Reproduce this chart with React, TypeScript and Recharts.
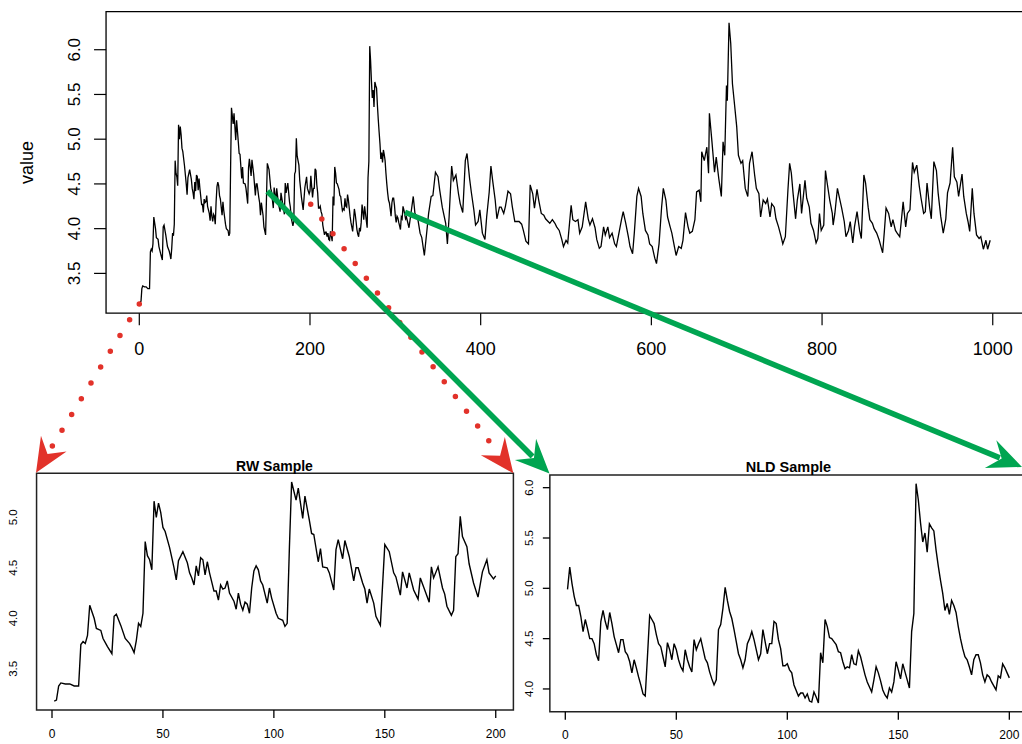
import React from "react";
import { LineChart, Line, XAxis, YAxis, ReferenceArea } from "recharts";

// ─── Data ───────────────────────────────────────────────────────────────────

// RW Sample (first 200 steps of the full series)
const rwT = [1, 2, 3, 4, 6, 8, 10, 12, 13, 14, 15, 16, 17, 19, 20, 22, 23, 25, 27, 28, 29, 31, 33, 35, 36, 37, 38, 39, 40, 41, 42, 43, 44, 45, 46, 47, 48, 49, 50, 51, 53, 54, 55, 56, 57, 59, 61, 62, 63, 64, 65, 66, 67, 68, 69, 70, 71, 73, 74, 75, 76, 77, 78, 79, 80, 82, 83, 84, 85, 86, 87, 88, 89, 90, 91, 92, 93, 94, 95, 97, 98, 99, 101, 102, 104, 105, 106, 107, 108, 110, 111, 113, 114, 116, 117, 118, 120, 121, 122, 124, 125, 127, 128, 129, 131, 132, 134, 136, 137, 138, 140, 141, 142, 143, 145, 146, 148, 150, 152, 154, 155, 157, 158, 160, 161, 163, 165, 166, 168, 170, 171, 172, 174, 176, 177, 178, 180, 181, 182, 183, 184, 185, 187, 188, 190, 192, 194, 196, 197, 199, 200];
const rwV = [3.18, 3.19, 3.33, 3.36, 3.35, 3.35, 3.33, 3.33, 3.74, 3.77, 3.75, 3.83, 4.13, 4.0, 3.9, 3.88, 3.8, 3.72, 3.65, 4.02, 4.04, 3.93, 3.8, 3.75, 3.71, 3.66, 3.78, 3.95, 3.92, 4.05, 4.76, 4.62, 4.58, 4.48, 5.16, 5.0, 5.14, 5.05, 4.9, 4.86, 4.7, 4.6, 4.5, 4.38, 4.57, 4.66, 4.55, 4.45, 4.4, 4.33, 4.52, 4.42, 4.6, 4.58, 4.43, 4.56, 4.45, 4.27, 4.27, 4.18, 4.33, 4.29, 4.3, 4.37, 4.25, 4.17, 4.09, 4.25, 4.14, 4.08, 4.16, 4.14, 4.05, 4.3, 4.47, 4.52, 4.48, 4.37, 4.33, 4.15, 4.3, 4.2, 4.05, 4.0, 3.98, 3.92, 3.95, 4.7, 5.35, 5.17, 5.29, 4.99, 5.21, 4.97, 4.84, 4.83, 4.56, 4.69, 4.51, 4.5, 4.45, 4.28, 4.68, 4.78, 4.59, 4.77, 4.61, 4.37, 4.5, 4.5, 4.35, 4.29, 4.15, 4.29, 4.15, 4.02, 3.93, 4.73, 4.66, 4.45, 4.41, 4.23, 4.46, 4.3, 4.45, 4.28, 4.19, 4.4, 4.28, 4.16, 4.51, 4.4, 4.51, 4.3, 4.24, 4.12, 4.03, 4.08, 4.61, 4.64, 5.01, 4.81, 4.71, 4.54, 4.35, 4.21, 4.46, 4.58, 4.45, 4.39, 4.42];

// NLD Sample (steps 112..312 of the full series)
const nldT = [1, 2, 3, 4, 5, 6, 7, 8, 9, 10, 11, 12, 13, 14, 15, 16, 17, 18, 19, 20, 21, 22, 23, 24, 25, 26, 27, 28, 29, 30, 31, 32, 33, 34, 35, 36, 37, 38, 39, 40, 41, 42, 43, 44, 45, 46, 47, 48, 49, 50, 51, 52, 53, 54, 55, 56, 57, 58, 59, 60, 61, 62, 63, 64, 65, 66, 67, 68, 69, 70, 71, 72, 73, 74, 75, 76, 77, 78, 79, 80, 81, 82, 83, 84, 85, 86, 87, 88, 89, 90, 91, 92, 93, 94, 95, 96, 97, 98, 99, 100, 101, 102, 103, 105, 106, 107, 108, 109, 110, 111, 112, 113, 114, 115, 116, 117, 118, 119, 120, 121, 122, 123, 124, 125, 126, 127, 128, 129, 130, 131, 132, 133, 134, 135, 136, 137, 138, 139, 140, 141, 142, 143, 144, 145, 146, 147, 148, 149, 150, 151, 152, 153, 154, 155, 156, 157, 158, 159, 160, 161, 162, 163, 164, 165, 166, 167, 168, 169, 170, 171, 172, 173, 174, 175, 176, 177, 178, 179, 180, 181, 182, 183, 184, 185, 186, 187, 188, 189, 190, 191, 192, 193, 194, 195, 196, 197, 198, 199, 200];
const nldV = [4.99, 5.21, 5.05, 4.92, 4.83, 4.83, 4.72, 4.57, 4.69, 4.6, 4.5, 4.5, 4.45, 4.34, 4.28, 4.67, 4.78, 4.67, 4.59, 4.76, 4.65, 4.52, 4.44, 4.36, 4.49, 4.49, 4.37, 4.34, 4.27, 4.16, 4.29, 4.21, 4.12, 4.04, 3.95, 3.93, 4.32, 4.73, 4.69, 4.65, 4.54, 4.45, 4.42, 4.32, 4.22, 4.46, 4.39, 4.29, 4.45, 4.39, 4.29, 4.22, 4.18, 4.39, 4.29, 4.22, 4.17, 4.49, 4.39, 4.45, 4.5, 4.4, 4.3, 4.26, 4.17, 4.1, 4.04, 4.09, 4.59, 4.64, 4.8, 5.01, 4.88, 4.77, 4.7, 4.59, 4.47, 4.35, 4.29, 4.21, 4.29, 4.45, 4.5, 4.57, 4.49, 4.39, 4.29, 4.35, 4.59, 4.47, 4.35, 4.45, 4.45, 4.67, 4.65, 4.49, 4.4, 4.23, 4.23, 4.25, 4.19, 4.16, 4.04, 3.93, 3.96, 3.96, 3.91, 3.95, 3.88, 3.87, 3.97, 3.92, 3.86, 4.36, 4.26, 4.69, 4.62, 4.51, 4.5, 4.47, 4.44, 4.37, 4.36, 4.27, 4.2, 4.22, 4.21, 4.34, 4.25, 4.24, 4.38, 4.32, 4.23, 4.14, 4.07, 4.02, 3.97, 4.09, 4.22, 4.16, 4.08, 3.99, 3.94, 3.91, 4.01, 3.97, 4.07, 4.27, 4.19, 4.1, 4.25, 4.17, 4.09, 4.01, 4.57, 4.75, 6.04, 5.88, 5.65, 5.46, 5.55, 5.36, 5.64, 5.6, 5.57, 5.38, 5.22, 5.08, 4.95, 4.78, 4.85, 4.74, 4.88, 4.83, 4.76, 4.62, 4.5, 4.4, 4.32, 4.29, 4.22, 4.14, 4.29, 4.34, 4.34, 4.26, 4.14, 4.07, 4.14, 4.12, 4.07, 4.03, 3.99, 4.13, 4.11, 4.25, 4.21, 4.16, 4.11];
const NLD_OFFSET = 112;

// rest of the full series, after the NLD window
const tailT = [313, 316, 318, 321, 323, 326, 329, 331, 334, 337, 339, 342, 344, 347, 350, 352, 355, 359, 361, 363, 366, 368, 371, 374, 376, 379, 382, 384, 387, 389, 392, 394, 397, 399, 402, 405, 407, 410, 412, 414, 417, 419, 422, 424, 427, 429, 432, 435, 437, 440, 442, 445, 448, 450, 453, 456, 458, 461, 463, 466, 468, 471, 474, 476, 479, 481, 484, 487, 489, 492, 495, 497, 500, 502, 506, 508, 511, 514, 516, 519, 523, 526, 528, 531, 534, 536, 539, 541, 544, 546, 549, 551, 554, 557, 559, 562, 565, 567, 570, 573, 575, 578, 580, 583, 585, 588, 590, 593, 596, 598, 601, 604, 606, 609, 612, 614, 617, 619, 622, 624, 627, 629, 632, 635, 637, 640, 643, 645, 648, 651, 653, 656, 658, 659, 662, 665, 667, 668, 671, 674, 676, 679, 682, 684, 686, 688, 689, 691, 693, 695, 697, 700, 702, 705, 707, 710, 713, 715, 718, 721, 723, 726, 728, 731, 734, 736, 739, 741, 744, 746, 749, 752, 754, 757, 760, 762, 764, 766, 769, 771, 774, 776, 780, 782, 785, 787, 790, 793, 795, 797, 799, 802, 804, 806, 809, 812, 813, 815, 818, 820, 823, 826, 828, 831, 833, 836, 838, 841, 844, 846, 849, 851, 854, 856, 859, 861, 864, 867, 869, 871, 873, 875, 878, 881, 883, 886, 888, 891, 893, 895, 898, 900, 903, 906, 908, 911, 914, 916, 919, 921, 923, 926, 928, 931, 934, 936, 939, 942, 945, 947, 950, 953, 955, 958, 960, 964, 966, 969, 971, 973, 976, 978, 981, 984, 986, 989, 992, 994, 997];
const tailV = [4.13, 4.01, 4.15, 4.36, 4.17, 4.13, 3.95, 3.9, 3.7, 3.98, 4.17, 4.36, 4.37, 4.63, 4.58, 4.43, 4.24, 4.06, 3.83, 4.13, 4.7, 4.54, 4.6, 4.39, 4.28, 4.18, 4.76, 4.84, 4.56, 4.41, 4.21, 4.04, 4.08, 4.21, 3.95, 3.88, 4.13, 4.41, 4.7, 4.54, 4.32, 4.11, 4.24, 4.24, 4.17, 4.25, 4.42, 4.39, 4.25, 4.08, 4.08, 4.08, 4.05, 3.98, 3.86, 3.83, 4.49, 4.39, 4.23, 4.44, 4.32, 4.17, 4.15, 4.11, 4.08, 4.06, 4.1, 4.06, 4.02, 3.98, 3.88, 3.8, 3.87, 3.84, 4.26, 4.1, 4.08, 4.1, 3.95, 4.02, 4.3, 4.11, 4.04, 4.11, 4.01, 3.88, 3.78, 3.8, 4.02, 3.93, 4.02, 3.9, 3.95, 3.83, 3.8, 3.95, 4.1, 4.19, 4.06, 3.91, 3.8, 3.72, 3.95, 4.36, 4.45, 4.36, 4.17, 3.98, 3.93, 3.83, 3.8, 3.67, 3.61, 3.83, 4.24, 4.45, 4.32, 4.13, 4.02, 3.95, 3.8, 3.7, 3.8, 3.78, 3.87, 4.18, 4.02, 3.95, 3.97, 4.1, 4.41, 4.43, 4.3, 4.86, 4.76, 4.91, 4.62, 5.29, 4.97, 4.63, 4.8, 4.56, 4.36, 4.97, 4.82, 5.6, 5.43, 6.3, 6.07, 5.62, 5.43, 5.14, 4.82, 4.73, 4.76, 4.45, 4.36, 4.73, 4.86, 4.6, 4.45, 4.39, 4.13, 4.32, 4.28, 4.33, 4.13, 4.28, 4.24, 4.11, 4.02, 3.91, 3.83, 3.91, 4.43, 4.73, 4.62, 4.4, 4.11, 4.32, 4.5, 4.17, 4.54, 4.34, 4.24, 4.06, 3.98, 3.84, 3.89, 4.17, 3.98, 4.04, 4.65, 4.51, 4.32, 4.17, 4.04, 4.17, 4.45, 4.36, 4.23, 4.08, 3.91, 3.98, 4.08, 3.84, 4.02, 4.19, 3.98, 3.89, 4.6, 4.51, 4.24, 4.1, 4.06, 4.0, 3.95, 3.87, 3.8, 3.73, 3.97, 4.23, 4.17, 4.02, 4.1, 3.98, 3.95, 3.91, 4.1, 4.3, 4.02, 4.17, 4.21, 4.74, 4.63, 4.71, 4.47, 4.34, 4.17, 4.19, 4.51, 4.24, 4.11, 4.75, 4.65, 4.4, 4.14, 3.95, 4.11, 4.4, 4.51, 4.91, 4.58, 4.52, 4.36, 4.61, 4.36, 4.17, 4.08, 3.97, 4.45, 4.17, 3.93, 3.89, 3.91, 3.77, 3.87, 3.77, 3.87];

// axis ticks
const mainXTicks = [0, 200, 400, 600, 800, 1000];
const mainYTicks = [3.5, 4.0, 4.5, 5.0, 5.5, 6.0];
const sampleXTicks = [0, 50, 100, 150, 200];
const rwYTicks = [3.5, 4.0, 4.5, 5.0];
const nldYTicks = [4.0, 4.5, 5.0, 5.5, 6.0];

const rwData = rwT.map((t, i) => ({ t, v: rwV[i] }));
const nldData = nldT.map((t, i) => ({ t, v: nldV[i] }));
const mainData = [
    ...rwData,
    ...nldData.filter((d) => d.t + NLD_OFFSET > 200).map((d) => ({ t: d.t + NLD_OFFSET, v: d.v })),
    ...tailT.map((t, i) => ({ t, v: tailV[i] })),
];

// ─── Styling ────────────────────────────────────────────────────────────────

const FONT = "'Liberation Sans', Arial, Helvetica, sans-serif";
const RED = "#e2322a";
const GREEN = "#00a551";

// R style padding: 4% on each side of the data range
const SAMPLE_X: [number, number] = [-6.96, 207.96];

// ─── Tick renderers ─────────────────────────────────────────────────────────

function xTick(size: number, dy: number) {
    return (p: any) => (
        <text x={p.x} y={p.y} dy={dy} textAnchor="middle" fontSize={size} fontFamily={FONT} fill="#000">
            {p.payload.value}
        </text>
    );
}

function yTick(size: number, dx: number) {
    return (p: any) => {
        const x = p.x + dx;
        return (
            <text x={x} y={p.y} transform={`rotate(-90, ${x}, ${p.y})`} textAnchor="middle"
                fontSize={size} fontFamily={FONT} fill="#000">
                {Number(p.payload.value).toFixed(1)}
            </text>
        );
    };
}

// ─── Arrow annotations ──────────────────────────────────────────────────────

type Arrow = { from: [number, number]; to: [number, number]; color: string; dotted?: boolean };

const ARROWS: Arrow[] = [
    { from: [139.3, 304], to: [36, 472.7], color: RED, dotted: true },
    { from: [310.7, 204.3], to: [513.3, 473.3], color: RED, dotted: true },
    { from: [267.3, 191.3], to: [549.5, 473.5], color: GREEN },
    { from: [405, 212.3], to: [1022, 467], color: GREEN },
];

function ArrowMark({ a }: { a: Arrow }) {
    const [sx, sy] = a.from;
    const [tx, ty] = a.to;
    const len = Math.hypot(tx - sx, ty - sy);
    const ux = (tx - sx) / len;
    const uy = (ty - sy) / len;
    const nx = -uy;
    const ny = ux;
    const back = 34, half = 15, notch = 22;
    const ex = tx - ux * (notch + 2);
    const ey = ty - uy * (notch + 2);
    const head = [
        [tx, ty],
        [tx - ux * back + nx * half, ty - uy * back + ny * half],
        [tx - ux * notch, ty - uy * notch],
        [tx - ux * back - nx * half, ty - uy * back - ny * half],
    ].map((q) => q.join(",")).join(" ");
    return (
        <g>
            <line x1={sx} y1={sy} x2={ex} y2={ey} stroke={a.color}
                strokeWidth={a.dotted ? 5.5 : 5.5}
                strokeDasharray={a.dotted ? "0 18.5" : undefined}
                strokeLinecap={a.dotted ? "round" : "butt"} />
            <polygon points={head} fill={a.color} />
        </g>
    );
}

// ─── Panels ─────────────────────────────────────────────────────────────────

function MainPanel() {
    return (
        <div style={{ position: "absolute", left: 0, top: 0 }}>
            <LineChart width={1040} height={370} data={mainData}
                margin={{ top: 11.7, right: 13.15, left: 0, bottom: 16.8 }}>
                <XAxis dataKey="t" type="number" domain={[-38.96, 1039.96]} allowDataOverflow
                    ticks={mainXTicks} interval={0} height={40} tickSize={12} tickMargin={0}
                    axisLine={false} tickLine={{ stroke: "#000", strokeWidth: 1.2 }}
                    tick={xTick(18, 29.3)} />
                <YAxis type="number" domain={[3.055, 6.425]} allowDataOverflow ticks={mainYTicks}
                    interval={0} width={106.05} tickSize={12} tickMargin={0} axisLine={false}
                    tickLine={{ stroke: "#000", strokeWidth: 1.2 }} tick={yTick(17, -14)} />
                <ReferenceArea x1={-38.96} x2={1039.96} y1={3.055} y2={6.425}
                    fill="none" fillOpacity={0} stroke="#000" strokeWidth={1.3} />
                <Line dataKey="v" type="linear" stroke="#000" strokeWidth={1.3} dot={false}
                    isAnimationActive={false} />
            </LineChart>
        </div>
    );
}

function RWPanel() {
    return (
        <div style={{ position: "absolute", left: 0, top: 440 }}>
            <LineChart width={530} height={304} data={rwData}
                margin={{ top: 33.2, right: 16.6, left: 0, bottom: 0 }}>
                <XAxis dataKey="t" type="number" domain={SAMPLE_X} allowDataOverflow
                    ticks={sampleXTicks} interval={0} height={34.1} tickSize={8} tickMargin={0}
                    axisLine={false} tickLine={{ stroke: "#000", strokeWidth: 1.3 }}
                    tick={xTick(12, 19.7)} />
                <YAxis type="number" domain={[3.093, 5.437]} allowDataOverflow ticks={rwYTicks}
                    interval={0} width={36.56} tickSize={0} tickMargin={0} axisLine={false}
                    tickLine={false} tick={yTick(11.5, -19.3)} />
                <ReferenceArea x1={SAMPLE_X[0]} x2={SAMPLE_X[1]} y1={3.093} y2={5.437}
                    fill="none" fillOpacity={0} stroke="#222" strokeWidth={1.5} />
                <Line dataKey="v" type="linear" stroke="#000" strokeWidth={1.4} dot={false}
                    isAnimationActive={false} />
            </LineChart>
        </div>
    );
}

function NLDPanel() {
    return (
        <div style={{ position: "absolute", left: 510, top: 440 }}>
            <LineChart width={530} height={304} data={nldData}
                margin={{ top: 34.9, right: 13, left: 0, bottom: 0 }}>
                <XAxis dataKey="t" type="number" domain={SAMPLE_X} allowDataOverflow
                    ticks={sampleXTicks} interval={0} height={32.2} tickSize={8} tickMargin={0}
                    axisLine={false} tickLine={{ stroke: "#000", strokeWidth: 1.3 }}
                    tick={xTick(12, 19.5)} />
                <YAxis type="number" domain={[3.773, 6.127]} allowDataOverflow ticks={nldYTicks}
                    interval={0} width={39.85} tickSize={7} tickMargin={0} axisLine={false}
                    tickLine={{ stroke: "#000", strokeWidth: 1.3 }} tick={yTick(11.5, -10.2)} />
                <ReferenceArea x1={SAMPLE_X[0]} x2={SAMPLE_X[1]} y1={3.773} y2={6.127}
                    fill="none" fillOpacity={0} stroke="#222" strokeWidth={1.5} />
                <Line dataKey="v" type="linear" stroke="#000" strokeWidth={1.4} dot={false}
                    isAnimationActive={false} />
            </LineChart>
        </div>
    );
}

export default function App() {
    return (
        <div style={{
            position: "absolute", left: 0, top: 0, width: 1022, height: 744,
            overflow: "hidden", background: "#fff",
        }}>
            <MainPanel />
            <RWPanel />
            <NLDPanel />
            <svg width={1022} height={744}
                style={{ position: "absolute", left: 0, top: 0, pointerEvents: "none" }}>
                <text x={33} y={162.5} transform="rotate(-90, 33, 162.5)" textAnchor="middle"
                    fontSize={18} fontFamily={FONT} fill="#000">value</text>
                <text x={274.5} y={470.5} textAnchor="middle" fontSize={14} fontWeight="bold"
                    fontFamily={FONT} fill="#000">RW Sample</text>
                <text x={788.5} y={472} textAnchor="middle" fontSize={14.5} fontWeight="bold"
                    fontFamily={FONT} fill="#000">NLD Sample</text>
                {ARROWS.map((a, i) => <ArrowMark key={i} a={a} />)}
            </svg>
        </div>
    );
}
